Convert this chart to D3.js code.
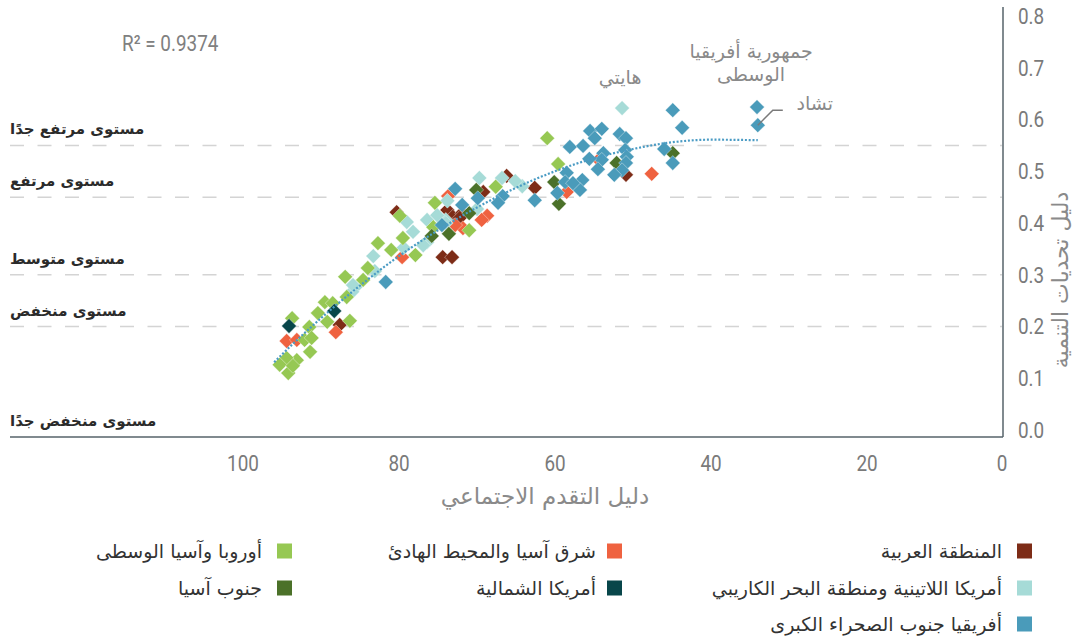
<!DOCTYPE html>
<html><head><meta charset="utf-8">
<script src="https://cdn.jsdelivr.net/npm/d3@7"></script>
<style>body{margin:0;background:#fff}svg{display:block}</style>
</head><body><svg id="c" width="1085" height="640"></svg>
<script>
// ---------- data ----------
const xTicks = [0, 20, 40, 60, 80, 100];
const yTicks = [0, 0.1, 0.2, 0.3, 0.4, 0.5, 0.6, 0.7, 0.8];
const levelBounds = [0, 0.2, 0.3, 0.45, 0.55];
const levelNames = ["مستوى منخفض جدًا", "مستوى منخفض", "مستوى متوسط", "مستوى مرتفع", "مستوى مرتفع جدًا"];
const rSquared = "R² = 0.9374";
const xTitle = "دليل التقدم الاجتماعي";
const yTitle = "دليل تحديات التنمية";

const seriesNames = ["المنطقة العربية", "أمريكا اللاتينية ومنطقة البحر الكاريبي", "أفريقيا جنوب الصحراء الكبرى",
  "شرق آسيا والمحيط الهادئ", "أمريكا الشمالية", "أوروبا وآسيا الوسطى", "جنوب آسيا"];

const arabRegion = [[50.9,0.493],[62.6,0.468],[66.2,0.491],[69.2,0.460],[73.8,0.425],[72.4,0.412],[73.1,0.412],
  [71.9,0.419],[72.2,0.410],[80.3,0.421],[74.4,0.334],[73.2,0.334],[87.6,0.203]];
const latinAmerica = [[51.4,0.622],[64.2,0.471],[65.1,0.481],[66.8,0.487],[69.7,0.487],[73.8,0.443],[70.0,0.427],
  [74.0,0.406],[79.0,0.402],[76.4,0.406],[75.1,0.415],[74.0,0.400],[78.2,0.383],[76.4,0.363],[76.9,0.357],
  [79.4,0.352],[83.3,0.336],[83.1,0.307],[85.6,0.276],[86.0,0.267],[85.9,0.280]];
const subSaharanAfrica = [[34.1,0.624],[34.0,0.589],[44.9,0.618],[43.7,0.584],[55.5,0.578],[54.0,0.582],[54.9,0.564],
  [58.1,0.547],[56.4,0.549],[51.7,0.572],[50.9,0.564],[51.0,0.541],[50.8,0.528],[50.9,0.516],[51.4,0.502],
  [52.4,0.493],[53.8,0.535],[54.0,0.522],[55.6,0.524],[54.5,0.504],[46.0,0.543],[44.9,0.516],[58.5,0.497],
  [58.7,0.479],[56.5,0.483],[56.8,0.464],[57.7,0.477],[59.7,0.458],[62.6,0.444],[72.8,0.466],[69.9,0.448],
  [66.7,0.452],[67.3,0.439],[71.9,0.435],[74.5,0.396],[81.7,0.286]];
const eastAsiaPacific = [[47.6,0.495],[54.4,0.522],[58.5,0.460],[73.7,0.452],[68.7,0.414],[69.4,0.406],[71.8,0.390],
  [72.8,0.396],[79.6,0.334],[88.1,0.189],[94.4,0.172],[93.1,0.174]];
const northAmerica = [[88.3,0.230],[94.1,0.201]];
const europeCentralAsia = [[61.0,0.564],[59.6,0.514],[67.6,0.470],[75.4,0.439],[79.9,0.414],[71.0,0.386],[75.6,0.392],
  [79.5,0.371],[77.9,0.338],[81.0,0.348],[82.7,0.361],[84.0,0.313],[86.9,0.296],[84.6,0.290],[86.7,0.257],
  [89.5,0.247],[88.5,0.245],[90.4,0.226],[89.2,0.209],[86.3,0.211],[93.7,0.216],[91.5,0.199],[92.1,0.174],
  [91.4,0.151],[93.1,0.135],[94.4,0.139],[95.3,0.126],[94.2,0.110],[93.6,0.124],[91.2,0.178]];
const southAsia = [[52.1,0.516],[44.9,0.535],[60.1,0.479],[59.5,0.437],[70.1,0.464],[71.0,0.419],[73.6,0.379],[75.8,0.375]];

const trendX = [96, 95, 90, 85, 80, 75, 70, 65, 60, 55, 50, 45, 40, 34];
const trendY = [0.131, 0.146, 0.216, 0.279, 0.336, 0.386, 0.430, 0.468, 0.500, 0.525, 0.543, 0.556, 0.561, 0.560];

const annotations = [
  {lines: ["هايتي"], x: 51.4, y: 0.622},
  {lines: ["جمهورية أفريقيا", "الوسطى"], x: 34.1, y: 0.624},
  {lines: ["تشاد"], x: 34.0, y: 0.589}
];

// ---------- styling / layout ----------
const colors = ["#7d2c17", "#a6dbd7", "#4a9bba", "#ef6240", "#08464a", "#96c853", "#4b7129"];
const numFont = "Roboto,sans-serif";
const squeeze = "scale(0.86,1)";
const arFont = "'DejaVu Sans',sans-serif";

const svg = d3.select("#c");
const x = d3.scaleLinear().domain([0, 20, 100]).range([1002, 867, 243]);
const y = d3.scaleLinear().domain([0, 0.8]).range([430, 16]);
const axisBottomY = y(0) + 7;
const leftEdge = 10;

// level dashed lines
svg.append("g").selectAll("line").data(levelBounds.slice(1)).join("line")
  .attr("x1", leftEdge).attr("x2", x(0)).attr("y1", d => y(d)).attr("y2", d => y(d))
  .attr("stroke", "#d4d4d4").attr("stroke-width", 1.5).attr("stroke-dasharray", "14 13.5");

// level labels
svg.append("g").selectAll("text").data(levelNames).join("text")
  .attr("x", leftEdge).attr("y", (d, i) => (i === 0 ? axisBottomY : y(levelBounds[i])) - 11)
  .attr("text-anchor", "start").attr("font-family", arFont).attr("font-weight", "bold")
  .attr("font-size", 15).attr("fill", "#2b2b2b").text(d => d);

// axes lines
svg.append("line").attr("x1", leftEdge).attr("x2", x(0) + 1).attr("y1", axisBottomY).attr("y2", axisBottomY)
  .attr("stroke", "#56636a").attr("stroke-width", 1.5);
svg.append("line").attr("x1", x(0) + 1).attr("x2", x(0) + 1).attr("y1", y(0.8) - 9).attr("y2", axisBottomY)
  .attr("stroke", "#56636a").attr("stroke-width", 1.5);

// y tick labels
svg.append("g").selectAll("g").data(yTicks).join("g")
  .attr("transform", d => `translate(${x(0) + 16},${y(d)}) ${squeeze}`)
  .append("text").attr("dy", "0.36em")
  .attr("font-family", numFont).attr("font-size", 22).attr("fill", "#7a7a7a")
  .text(d => d3.format(".1f")(d));

// x tick labels
svg.append("g").selectAll("g").data(xTicks).join("g")
  .attr("transform", d => `translate(${x(d)},471) ${squeeze}`)
  .append("text").attr("text-anchor", "middle")
  .attr("font-family", numFont).attr("font-size", 22).attr("fill", "#7a7a7a").text(d => d);

// axis titles
svg.append("text").attr("x", 545).attr("y", 504).attr("text-anchor", "middle")
  .attr("font-family", arFont).attr("font-size", 23).attr("fill", "#8a8a8a").text(xTitle);
svg.append("text").attr("transform", "translate(1068,280) rotate(-90)").attr("text-anchor", "middle")
  .attr("font-family", arFont).attr("font-size", 22).attr("fill", "#8a8a8a").text(yTitle);

// R squared
svg.append("g").attr("transform", `translate(122,51) ${squeeze}`).append("text")
  .attr("font-family", numFont).attr("font-size", 22).attr("fill", "#808080").text(rSquared);

// points
const seriesData = [arabRegion, latinAmerica, subSaharanAfrica, eastAsiaPacific, northAmerica, europeCentralAsia, southAsia];
const drawOrder = [0, 3, 1, 5, 6, 4, 2];
const sym = d3.symbol().type(d3.symbolSquare).size(110);
drawOrder.forEach(si => {
  svg.append("g").selectAll("path").data(seriesData[si]).join("path")
    .attr("d", sym)
    .attr("transform", d => `translate(${x(d[0])},${y(d[1])}) rotate(45)`)
    .attr("fill", colors[si]).attr("stroke", "#ffffff").attr("stroke-width", 0.6).attr("stroke-opacity", 0.6);
});

// trend line
const trend = trendX.map((v, i) => [v, trendY[i]]);
svg.append("path").datum(trend)
  .attr("d", d3.line().x(d => x(d[0])).y(d => y(d[1])).curve(d3.curveMonotoneX))
  .attr("fill", "none").attr("stroke", "#4a9bc4").attr("stroke-width", 2.2).attr("stroke-dasharray", "2 1.8");

// annotations
const ann = svg.append("g").attr("font-family", arFont).attr("font-size", 19).attr("fill", "#8a8a8a");
// Haiti
ann.append("text").attr("x", x(annotations[0].x) - 2).attr("y", y(annotations[0].y) - 24)
  .attr("text-anchor", "middle").text(annotations[0].lines[0]);
// CAR
annotations[1].lines.forEach((t, i) => {
  ann.append("text").attr("x", x(annotations[1].x) - 6).attr("y", y(annotations[1].y) - 49 + i * 23)
    .attr("text-anchor", "middle").text(t);
});
// Chad
const cx = x(annotations[2].x), cy = y(annotations[2].y);
ann.append("text").attr("x", cx + 57).attr("y", cy - 15).attr("text-anchor", "middle").text(annotations[2].lines[0]);
svg.append("path").attr("d", d3.line()([[cx, cy], [cx + 15, cy - 15], [cx + 25, cy - 15]]))
  .attr("fill", "none").attr("stroke", "#7a7a7a").attr("stroke-width", 1.5);

// legend
const legendCols = [{right: 1002, sq: 1017, items: [0, 1, 2]}, {right: 596, sq: 607, items: [3, 4]}, {right: 262, sq: 277, items: [5, 6]}];
const rowY = [551, 588, 624];
legendCols.forEach(col => {
  const g = svg.append("g");
  g.selectAll("rect").data(col.items).join("rect")
    .attr("x", col.sq).attr("y", (d, i) => rowY[i] - 7.5).attr("width", 15).attr("height", 15)
    .attr("fill", d => colors[d]);
  g.selectAll("text").data(col.items).join("text")
    .attr("x", col.right).attr("y", (d, i) => rowY[i]).attr("dy", "0.35em").attr("text-anchor", "end")
    .attr("font-family", arFont).attr("font-size", 19).attr("fill", "#333")
    .text(d => seriesNames[d]);
});
</script></body></html>
